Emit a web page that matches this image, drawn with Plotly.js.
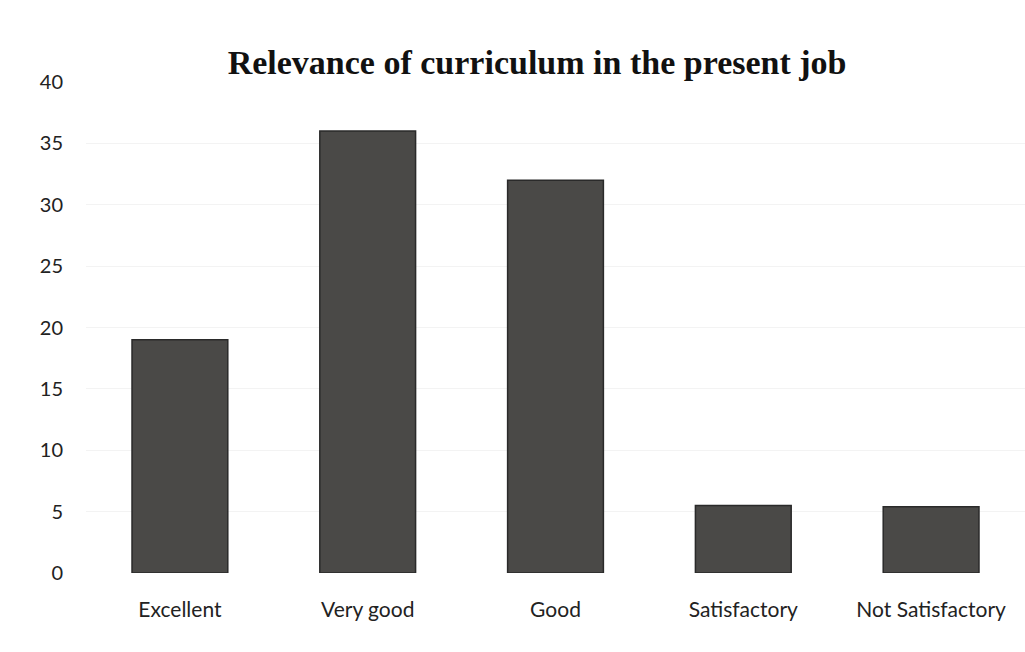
<!DOCTYPE html>
<html>
<head>
<meta charset="utf-8">
<script src="https://cdn.plot.ly/plotly-3.0.1.min.js"></script>
<style>html,body{margin:0;padding:0;background:#fff;}#chart{width:1025px;height:652px;}</style>
</head>
<body>
<div id="chart"></div>
<script>
const categories = ["Excellent", "Very good", "Good", "Satisfactory", "Not Satisfactory"];
const values = [19, 36, 32, 5.5, 5.4];
const yTicks = [0, 5, 10, 15, 20, 25, 30, 35, 40];
const chartTitle = "Relevance of curriculum in the present job";

Plotly.newPlot("chart", [{
  type: "bar",
  x: categories,
  y: values,
  marker: {color: "#4a4947", line: {color: "#2a2a2a", width: 1.5}},
  hoverinfo: "x+y"
}], {
  width: 1025,
  height: 652,
  margin: {l: 86, r: 0, t: 82, b: 79},
  paper_bgcolor: "#ffffff",
  plot_bgcolor: "#ffffff",
  bargap: 0.49,
  showlegend: false,
  title: {
    text: "<b>" + chartTitle + "</b>",
    font: {family: "Liberation Serif, serif", size: 34, color: "#111"},
    x: 0.524, xanchor: "center", y: 0.905, yanchor: "middle"
  },
  xaxis: {
    type: "category",
    showgrid: false, zeroline: false, showline: false,
    ticks: "",
    tickfont: {family: "Lato, sans-serif", size: 21, color: "#222"},
    ticklabelstandoff: 22
  },
  yaxis: {
    range: [0, 40],
    tickvals: yTicks,
    showgrid: true, gridcolor: "#f3f3f3", gridwidth: 1,
    zeroline: false, showline: false, ticks: "",
    tickfont: {family: "Lato, sans-serif", size: 20, color: "#222"},
    ticklabelstandoff: 22
  }
}, {displayModeBar: false, staticPlot: true});
</script>
</body>
</html>
